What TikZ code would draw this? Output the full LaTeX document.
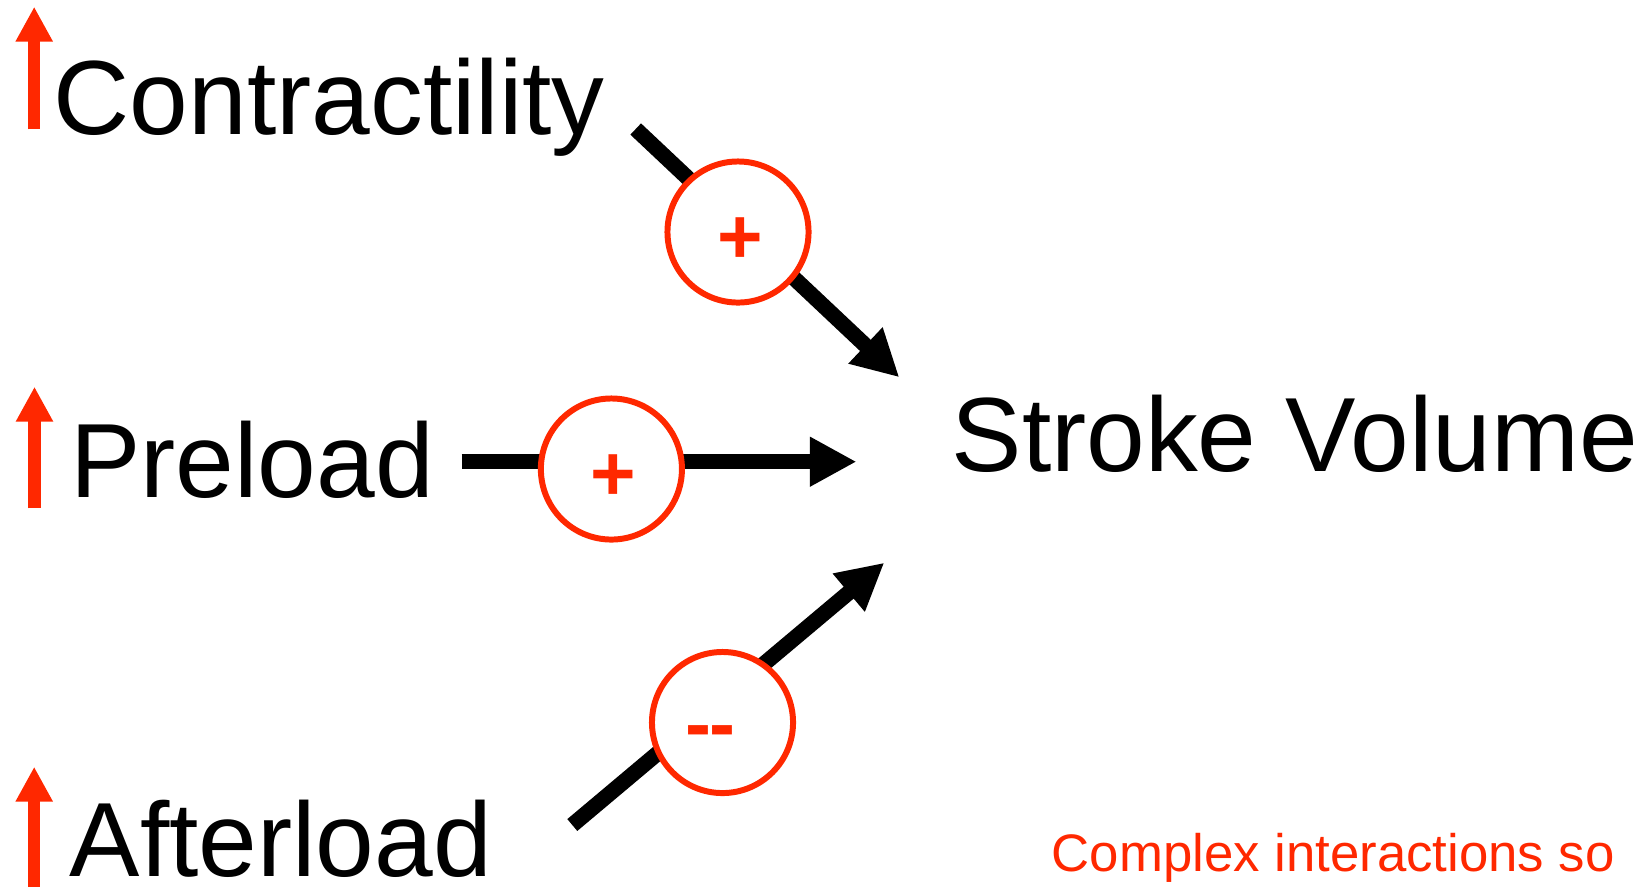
\documentclass[tikz,border=0pt]{standalone}
\usepackage{fontspec}
\setmainfont{Liberation Sans}
\usetikzlibrary{arrows.meta}
\definecolor{sigred}{RGB}{255,40,0}

\begin{document}
\begin{tikzpicture}[x=0.01cm,y=-0.01cm,
  big/.style={inner sep=0pt,anchor=base west,font=\fontsize{30pt}{36pt}\selectfont},
  ring/.style={draw=sigred,line width=1.7pt,circle,fill=white,minimum size=1.41cm,inner sep=0pt},
  signtext/.style={text=sigred,inner sep=0pt,font=\fontsize{22.2pt}{26pt}\selectfont\bfseries},
  uparr/.style={draw,sigred,line width=1.2mm,-{Triangle[length=3.5mm,width=3.5mm]}},
  flow/.style={draw,line width=1.55mm,-{Triangle[length=4.65mm,width=4.65mm]}}]
\useasboundingbox (0,0) rectangle (1652,887);
\node[big] (con) at (53,134) {Contractility};
\node[big] (pre) at (69.5,497.7) {Preload};
\node[big] (aft) at (69,876.7) {Afterload};
\node[big] (sv) at (951,471.7) {Stroke Volume};
\node[big,text=sigred,font=\fontsize{15pt}{18pt}\selectfont] (note) at (1051,871.7) {Complex interactions so};
\coordinate (u1) at (34.2,129.3);
\coordinate (v1) at (34.2,6.7);
\coordinate (u2) at (34.5,508.3);
\coordinate (v2) at (34.5,386.7);
\coordinate (u3) at (34.2,887);
\coordinate (v3) at (34.2,766.7);
\path[uparr] (u1) -- (v1);
\path[uparr] (u2) -- (v2);
\path[uparr] (u3) -- (v3);
\coordinate (a1) at (635.7,129);
\coordinate (b1) at (899.3,377.3);
\coordinate (a2) at (461.7,461.7);
\coordinate (b2) at (856.5,461.7);
\coordinate (a3) at (572.3,825);
\coordinate (b3) at (884.3,562.7);
\path[flow] (a1) -- (b1);
\path[flow] (a2) -- (b2);
\path[flow] (a3) -- (b3);
\node[ring] (1) at (738,232) {};
\node[ring] (2) at (611.4,469) {};
\node[ring] (3) at (722.5,722.5) {};
\node[signtext] (s1) at (740,240.5) {+};
\node[signtext] (s2) at (613.6,478) {+};
\node[signtext,anchor=base] (s3) at (710.5,750) {-\kern-0.8pt-};
\end{tikzpicture}
\end{document}
